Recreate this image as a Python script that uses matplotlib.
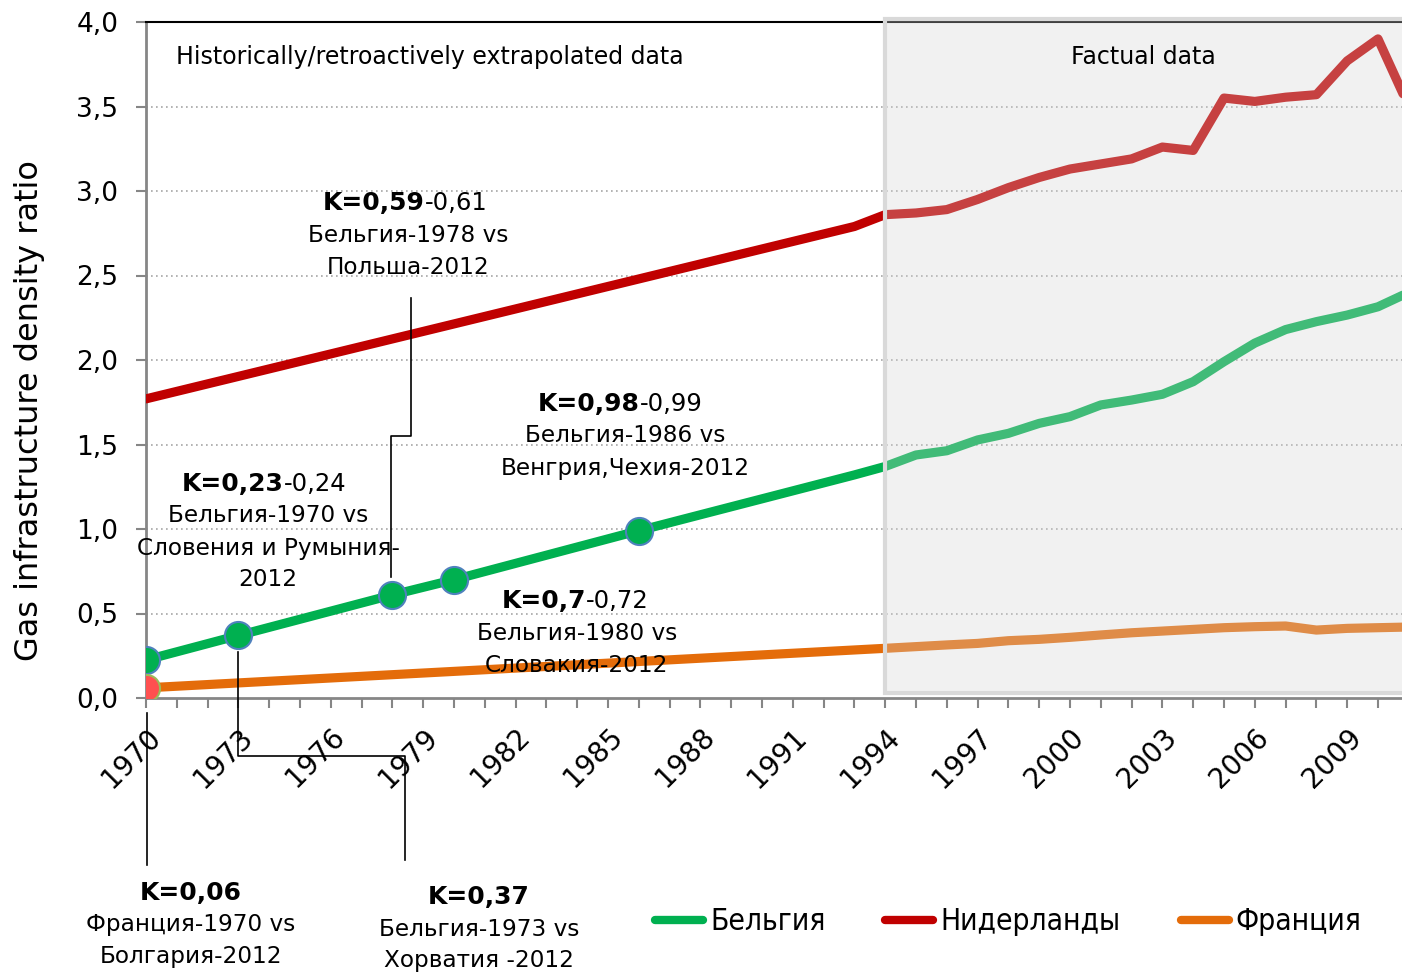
import matplotlib
matplotlib.use('Agg')
import matplotlib.pyplot as plt
import matplotlib.transforms as mtransforms
from matplotlib.lines import Line2D
from matplotlib.patches import Rectangle
from matplotlib import font_manager

# размер картинки в пикселях
W, H = 1402, 975

# ---- данные ----
# ретроспективная (экстраполированная) часть
hist_years_be = [1970, 1973, 1978, 1980, 1986, 1993, 1994]
hist_be = [0.225, 0.37, 0.61, 0.70, 0.99, 1.32, 1.37]
hist_years_nl = [1970, 1993, 1994]
hist_nl = [1.77, 2.79, 2.86]
hist_years_fr = [1970, 1994]
hist_fr = [0.06, 0.294]

# фактические данные
fact_years = list(range(1994, 2012))
fact_be = [1.37, 1.438, 1.463, 1.527, 1.566, 1.625, 1.665, 1.734, 1.763,
           1.797, 1.872, 1.99, 2.10, 2.18, 2.227, 2.266, 2.315, 2.40]
fact_nl = [2.86, 2.87, 2.89, 2.95, 3.02, 3.08, 3.13, 3.16, 3.19,
           3.26, 3.24, 3.55, 3.53, 3.555, 3.57, 3.77, 3.90, 3.50]
fact_fr = [0.294, 0.304, 0.314, 0.323, 0.339, 0.347, 0.359, 0.373, 0.386,
           0.396, 0.406, 0.416, 0.422, 0.426, 0.402, 0.412, 0.416, 0.42]

# точки-маркеры
marker_years_be = [1970, 1973, 1978, 1980, 1986]
marker_be = [0.225, 0.37, 0.61, 0.70, 0.99]
marker_years_fr = [1970]
marker_fr = [0.06]

yticks = [0, 0.5, 1.0, 1.5, 2.0, 2.5, 3.0, 3.5, 4.0]
ytick_labels = ['0,0', '0,5', '1,0', '1,5', '2,0', '2,5', '3,0', '3,5', '4,0']
label_years = list(range(1970, 2012, 3))

series_names = ['Бельгия', 'Нидерланды', 'Франция']
GREEN, RED, ORANGE = '#00B050', '#C00000', '#E46C0A'

be_years = hist_years_be + fact_years[1:]
be_vals = hist_be + fact_be[1:]
nl_years = hist_years_nl + fact_years[1:]
nl_vals = hist_nl + fact_nl[1:]
fr_years = hist_years_fr + fact_years[1:]
fr_vals = hist_fr + fact_fr[1:]

plt.rcParams['font.family'] = ['DejaVu Sans']

# узкий шрифт для легенды, если есть
legend_prop = None
for f in font_manager.fontManager.ttflist:
    narrow = 'Narrow' in f.name or 'Condensed' in f.name or 'condensed' in str(f.stretch)
    if narrow and f.style == 'normal' and f.weight in (400, 'normal', 'regular', 'book'):
        legend_prop = font_manager.FontProperties(fname=f.fname, size=21.5)
        break
if legend_prop is None:
    legend_prop = font_manager.FontProperties(family='Liberation Sans', size=22)


def fx(px):
    return px / W


def fy(py):
    return 1 - py / H


fig = plt.figure(figsize=(W / 100, H / 100), dpi=100)
# ось уходит за правый край картинки (как в оригинале - обрезано)
x0, x1 = 1970, 2012
px_per_year = 30.8
ax = fig.add_axes([fx(146), fy(698), (x1 - x0) * px_per_year / W, (698 - 22) / H])
ax.set_xlim(x0, x1)
ax.set_ylim(0, 4)

lw = 6.6
ax.plot(nl_years, nl_vals, color=RED, lw=lw, solid_capstyle='round', solid_joinstyle='round', zorder=3)
ax.plot(be_years, be_vals, color=GREEN, lw=lw, solid_capstyle='round', solid_joinstyle='round', zorder=3)
ax.plot(fr_years, fr_vals, color=ORANGE, lw=lw, solid_capstyle='round', solid_joinstyle='round', zorder=3)
ax.plot(marker_years_be, marker_be, 'o', ms=19.5, mfc=GREEN, mec='#4F81BD', mew=1.5, zorder=4)
ax.plot(marker_years_fr, marker_fr, 'o', ms=19.5, mfc='#FF5050', mec='#9BBB59', mew=1.5, zorder=4)

# полупрозрачная серая область "Factual data"
rect = Rectangle((1994, 0.03), 20, 3.99, facecolor=(212/255, 212/255, 212/255, 0.31),
                 edgecolor='#D9D9D9', lw=3, zorder=6, clip_on=False)
ax.add_patch(rect)

# сетка
for v in yticks[1:-1]:
    ax.axhline(v, color='#A6A6A6', lw=1.2, ls=(0, (1, 2)), zorder=1)

ax.set_yticks(yticks)
ax.set_yticklabels(ytick_labels, fontsize=19)
ax.set_xticks(range(1970, 2012))
ax.set_xticklabels([str(y) if y in label_years else '' for y in range(1970, 2012)],
                   fontsize=20, rotation=45, ha='right', va='top', rotation_mode='anchor')
shift = mtransforms.ScaledTranslation(-8 / 100, 0, fig.dpi_scale_trans)
for lab in ax.get_xticklabels():
    lab.set_transform(lab.get_transform() + shift)
ax.tick_params(axis='y', length=7, width=1.5, color='#868686', pad=13)
ax.tick_params(axis='x', length=7, width=1.5, color='#868686', pad=11)
for s in ['left', 'bottom']:
    ax.spines[s].set_color('#868686')
    ax.spines[s].set_linewidth(2)
ax.spines['top'].set_color('black')
ax.spines['top'].set_linewidth(1.5)
ax.spines['right'].set_visible(False)

fig.text(fx(30), fy(411), 'Gas infrastructure density ratio', rotation=90,
         fontsize=23, ha='center', va='center')

fig.text(fx(430), fy(57), 'Historically/retroactively extrapolated data', fontsize=17,
         ha='center', va='center', zorder=10)
fig.text(fx(1143), fy(57), 'Factual data', fontsize=17, ha='center', va='center', zorder=10)

# подписи с коэффициентами
def k_label(split_px, py, bold, normal, lines, cx):
    fig.text(fx(split_px), fy(py), bold, fontsize=18, fontweight='bold',
             ha='right' if normal else 'center', va='center')
    if normal:
        fig.text(fx(split_px), fy(py), normal, fontsize=17.5, ha='left', va='center')
    for i, s in enumerate(lines):
        fig.text(fx(cx), fy(py + 32 * (i + 1)), s, fontsize=16.7, ha='center', va='center')

k_label(425, 203, 'K=0,59', '-0,61', ['Бельгия-1978 vs', 'Польша-2012'], 408)
k_label(640, 404, 'K=0,98', '-0,99', ['Бельгия-1986 vs', 'Венгрия,Чехия-2012'], 625)
k_label(284, 484, 'K=0,23', '-0,24', ['Бельгия-1970 vs', 'Словения и Румыния-', '2012'], 268)
k_label(586, 601, 'K=0,7', '-0,72', ['Бельгия-1980 vs', 'Словакия-2012'], 577)
k_label(191, 893, 'K=0,06', '', ['Франция-1970 vs', 'Болгария-2012'], 191)
k_label(479, 897, 'K=0,37', '', ['Бельгия-1973 vs', 'Хорватия -2012'], 479)

# выноски
leaders = [
    ([147, 147], [713, 865]),
    ([238, 238, 405, 405], [652, 756, 756, 860]),
    ([391, 391, 411, 411], [577, 436, 436, 298]),
]
for xs, ys in leaders:
    fig.add_artist(Line2D([fx(v) for v in xs], [fy(v) for v in ys], color='black',
                          lw=1.2, transform=fig.transFigure, zorder=10))

handles = [Line2D([], [], color=c, lw=6, solid_capstyle='round') for c in (GREEN, RED, ORANGE)]
em = legend_prop.get_size_in_points() * 100 / 72
fig.legend(handles, series_names, loc='center left', bbox_to_anchor=(fx(655), fy(922)),
           ncol=3, frameon=False, borderpad=0, borderaxespad=0,
           handlelength=48 / em, handletextpad=7 / em, columnspacing=60 / em,
           prop=legend_prop)

fig.savefig('out.png', dpi=100)
